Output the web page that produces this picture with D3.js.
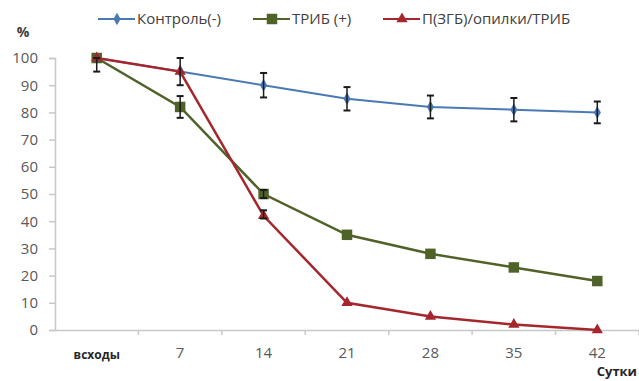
<!DOCTYPE html>
<html>
<head>
<meta charset="utf-8">
<script src="https://cdn.jsdelivr.net/npm/d3@7"></script>
<style>
  body { margin: 0; background: #fff; }
  text { font-family: "Open Sans", "Noto Sans", sans-serif; }
</style>
</head>
<body>
<div id="grafico"></div>
<script>
// dados
const categorias = ['всходы', '7', '14', '21', '28', '35', '42'];
const yTicks = [0, 10, 20, 30, 40, 50, 60, 70, 80, 90, 100];
const seriesNomes = ['Контроль(-)', 'ТРИБ (+)', 'П(ЗГБ)/опилки/ТРИБ'];
const controle = [100, 95, 90, 85, 82, 81, 80];
const controleErro = [[95, 100], [90, 100], [85.5, 94.5], [80.7, 89.3], [77.8, 86.2], [76.7, 85.3], [76, 84]];
const trib = [100, 82, 50, 35, 28, 23, 18];
const tribErro = [null, [78, 86], [48.5, 51.5], null, null, null, null];
const pzgb = [100, 95, 42, 10, 5, 2, 0];
const pzgbErro = [null, null, [41, 44], null, null, null, null];

const largura = 639, altura = 381;
const margin = { top: 58, bottom: 51, left: 55, right: 0 };

const svg = d3.select('#grafico').append('svg')
    .attr('width', largura).attr('height', altura);

const x = d3.scaleBand()
    .domain(categorias)
    .range([margin.left, largura - margin.right]);

const y = d3.scaleLinear()
    .domain([0, 100])
    .range([altura - margin.bottom, margin.top]);

const cx = d => x(d) + x.bandwidth() / 2;

// eixo Y
const eixoY = svg.append('g')
    .attr('transform', `translate(${margin.left},0)`)
    .call(d3.axisLeft(y).tickValues(yTicks).tickSize(6).tickPadding(11));
eixoY.select('.domain').attr('stroke', '#c8c8c8').attr('stroke-width', 1.5);
eixoY.selectAll('.tick line').attr('stroke', '#c8c8c8').attr('stroke-width', 1.5);
eixoY.selectAll('.tick text').attr('fill', '#595959').style('font-size', '15px');

// eixo X
const eixoX = svg.append('g')
    .attr('transform', `translate(0,${y(0)})`)
    .call(d3.axisBottom(x).tickSize(0).tickPadding(17));
eixoX.select('.domain').attr('stroke', '#c8c8c8').attr('stroke-width', 1.5);
eixoX.selectAll('.tick text').attr('fill', '#595959').style('font-size', '15px')
    .attr('dy', '0.71em');
eixoX.selectAll('.tick text').filter(d => d === 'всходы')
    .attr('fill', '#262626').style('font-weight', 'bold').style('font-size', '12px')
    .attr('dy', '1em');

// marcas entre categorias
svg.append('g').selectAll('line')
    .data(categorias)
    .enter().append('line')
    .attr('x1', d => x(d) + x.bandwidth())
    .attr('x2', d => x(d) + x.bandwidth())
    .attr('y1', y(0)).attr('y2', y(0) + 5)
    .attr('stroke', '#c8c8c8').attr('stroke-width', 1.5);

// títulos
svg.append('text').attr('x', 23).attr('y', 37).text('%')
    .attr('text-anchor', 'middle').attr('fill', '#404040')
    .style('font-size', '14px').style('font-weight', 'bold');
svg.append('text').attr('x', 637).attr('y', 376).text('Сутки')
    .attr('text-anchor', 'end').attr('fill', '#262626')
    .style('font-size', '13px').style('font-weight', 'bold');

const series = [
    { nome: seriesNomes[0], valores: controle, erros: controleErro, cor: '#4a7ab5', marca: 'diamond' },
    { nome: seriesNomes[1], valores: trib, erros: tribErro, cor: '#4f6228', marca: 'square' },
    { nome: seriesNomes[2], valores: pzgb, erros: pzgbErro, cor: '#a5272d', marca: 'triangle' }
];

const simbolos = {
    diamond: d3.symbol().type(d3.symbolDiamond).size(45),
    square: d3.symbol().type(d3.symbolSquare).size(110),
    triangle: d3.symbol().type(d3.symbolTriangle).size(55)
};

const linha = d3.line()
    .x((d, i) => cx(categorias[i]))
    .y(d => y(d));

series.forEach(s => {
    svg.append('path')
        .datum(s.valores)
        .attr('d', linha)
        .attr('fill', 'none')
        .attr('stroke', s.cor)
        .attr('stroke-width', s.marca === 'diamond' ? 2 : 2.5);
});

series.forEach(s => {
    svg.append('g').selectAll('path')
        .data(s.valores)
        .enter().append('path')
        .attr('d', simbolos[s.marca])
        .attr('transform', (d, i) => `translate(${cx(categorias[i])},${y(d)})`)
        .attr('fill', s.cor);
});

// barras de erro
series.forEach(s => {
    const g = svg.append('g');
    s.erros.forEach((e, i) => {
        if (!e) return;
        const px = cx(categorias[i]);
        g.append('line').attr('x1', px).attr('x2', px)
            .attr('y1', y(e[0])).attr('y2', y(e[1]))
            .attr('stroke', '#1a1a1a').attr('stroke-width', 1.5);
        [e[0], e[1]].forEach(v => {
            g.append('line').attr('x1', px - 3.5).attr('x2', px + 3.5)
                .attr('y1', y(v)).attr('y2', y(v))
                .attr('stroke', '#1a1a1a').attr('stroke-width', 2);
        });
    });
});

// legenda
const legX = [98, 253, 383];
const legY = 19;
const leg = svg.append('g');
series.forEach((s, i) => {
    const gx = legX[i];
    leg.append('line').attr('x1', gx).attr('x2', gx + 37)
        .attr('y1', legY).attr('y2', legY)
        .attr('stroke', s.cor).attr('stroke-width', 2);
    leg.append('path').attr('d', simbolos[s.marca])
        .attr('transform', `translate(${gx + 19},${legY})`)
        .attr('fill', s.cor);
    leg.append('text').attr('x', gx + 39).attr('y', legY).attr('dy', '0.35em')
        .text(s.nome).attr('fill', '#404040').style('font-size', '15px');
});
</script>
</body>
</html>
